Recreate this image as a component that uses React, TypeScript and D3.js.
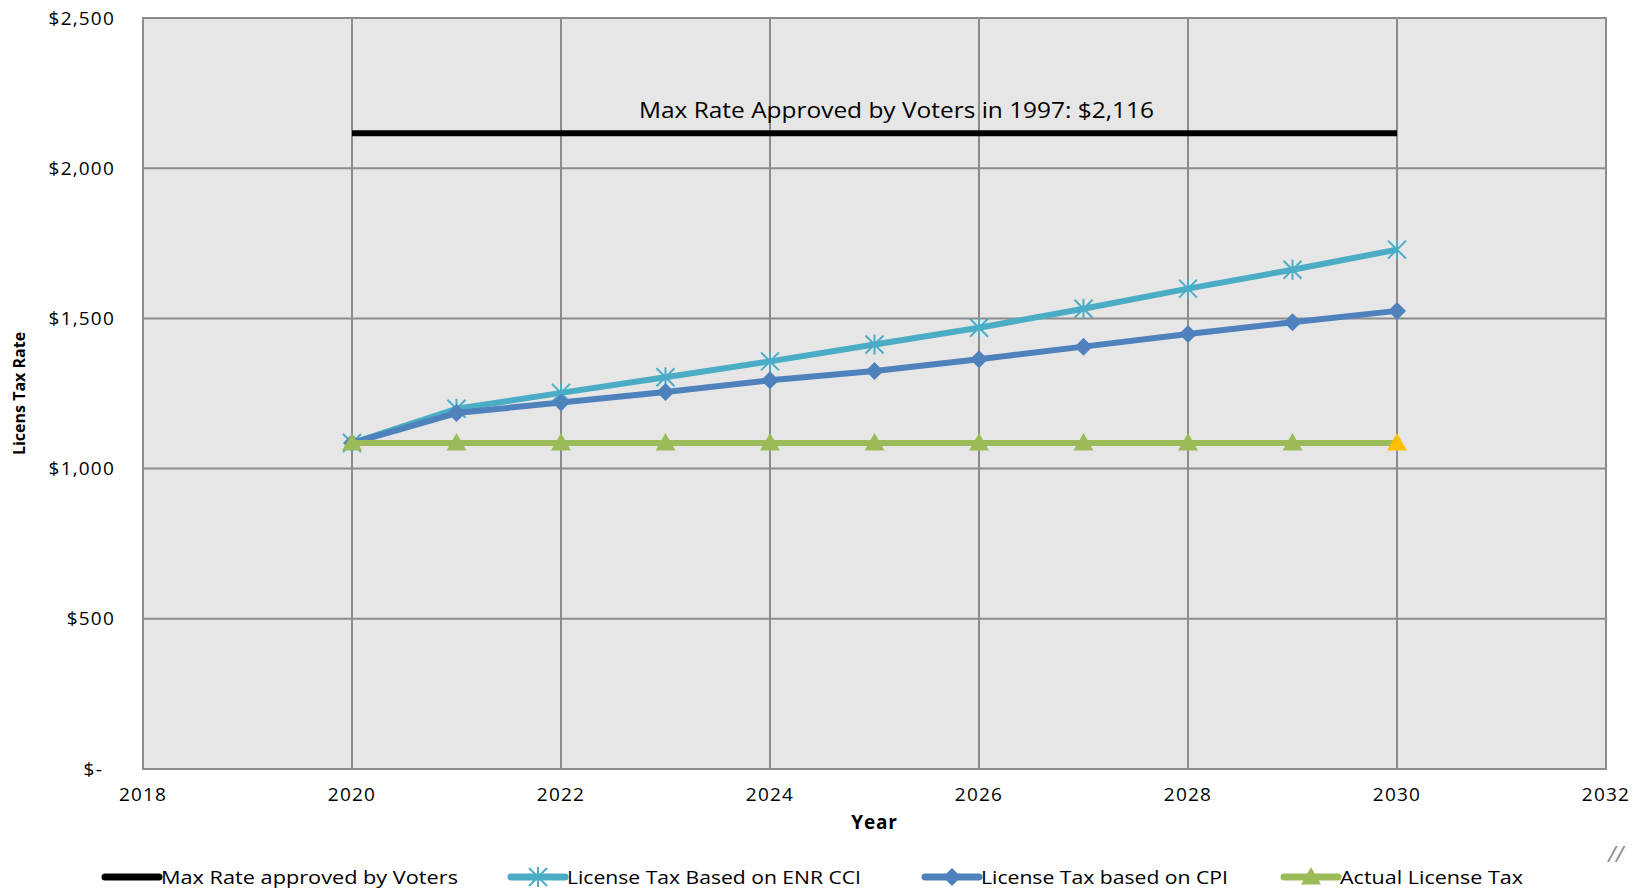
import React from 'react'
import * as d3 from 'd3'

const W = 1651
const H = 889
const MARGIN = { top: 18, right: 45, bottom: 120, left: 143 }

const years = [2020, 2021, 2022, 2023, 2024, 2025, 2026, 2027, 2028, 2029, 2030]
const maxRate = [2116, 2116, 2116, 2116, 2116, 2116, 2116, 2116, 2116, 2116, 2116]
const enrCci = [1085, 1199, 1252, 1304, 1357, 1413, 1469, 1532, 1599, 1662, 1729]
const cpi = [1085, 1185, 1220, 1255, 1294, 1325, 1364, 1406, 1448, 1487, 1525]
const actual = [1085, 1085, 1085, 1085, 1085, 1085, 1085, 1085, 1085, 1085, 1085]

const xTicks = [2018, 2020, 2022, 2024, 2026, 2028, 2030, 2032]
const yTicks = [0, 500, 1000, 1500, 2000, 2500]

const legendItems = [
  { label: 'Max Rate approved by Voters', color: '#000000', marker: 'none', x: 105, len: 297 },
  { label: 'License Tax Based on ENR CCI', color: '#4BACC6', marker: 'star', x: 511, len: 294 },
  { label: 'License Tax based on CPI', color: '#4F81BD', marker: 'diamond', x: 925, len: 247 },
  { label: 'Actual License Tax', color: '#9BBB59', marker: 'triangle', x: 1284, len: 183 },
]

const FONT = '"Open Sans", "Noto Sans", sans-serif'

function Marker({ kind, x, y, color }: { kind: string; x: number; y: number; color: string }) {
  if (kind === 'star') {
    const r = 9
    return (
      <g stroke={color} strokeWidth={2}>
        <line x1={x - r} y1={y - r} x2={x + r} y2={y + r} />
        <line x1={x - r} y1={y + r} x2={x + r} y2={y - r} />
        <line x1={x} y1={y - r - 1} x2={x} y2={y + r + 1} />
      </g>
    )
  }
  if (kind === 'diamond') {
    const r = 9
    return <path d={`M${x},${y - r}L${x + r},${y}L${x},${y + r}L${x - r},${y}Z`} fill={color} />
  }
  if (kind === 'triangle') {
    const r = 10
    return <path d={`M${x},${y - r}L${x + r},${y + r * 0.75}L${x - r},${y + r * 0.75}Z`} fill={color} />
  }
  return null
}

export default function App() {
  const bw = W - MARGIN.left - MARGIN.right
  const bh = H - MARGIN.top - MARGIN.bottom

  const x = d3.scaleLinear().domain([2018, 2032]).range([0, bw])
  const y = d3.scaleLinear().domain([0, 2500]).range([bh, 0])

  const line = d3
    .line<number>()
    .x((_, i) => x(years[i]))
    .y((d) => y(d))

  const series = [
    { values: enrCci, color: '#4BACC6', marker: 'star' },
    { values: cpi, color: '#4F81BD', marker: 'diamond' },
    { values: actual, color: '#9BBB59', marker: 'triangle' },
  ]

  return (
    <div>
      <style>{`body{margin:0}`}</style>
      <svg width={W} height={H} style={{ display: 'block', background: '#fff' }} fontFamily={FONT}>
        <g transform={`translate(${MARGIN.left},${MARGIN.top})`}>
          <rect x={0} y={0} width={bw} height={bh} fill="#E6E6E6" />
          {/* grid */}
          {xTicks.map((t) => (
            <line key={'gx' + t} x1={x(t)} x2={x(t)} y1={0} y2={bh} stroke="#8C8C8C" strokeWidth={2} />
          ))}
          {yTicks.map((t) => (
            <line key={'gy' + t} x1={0} x2={bw} y1={y(t)} y2={y(t)} stroke="#8C8C8C" strokeWidth={2} />
          ))}
          <rect x={0} y={0} width={bw} height={bh} fill="none" stroke="#8C8C8C" strokeWidth={2} />

          {/* tick labels */}
          {yTicks.map((t) => (
            <text
              key={'ty' + t}
              x={t === 0 ? -40 : -28}
              y={y(t)}
              dy="0.35em"
              textAnchor="end"
              fontSize={19}
              letterSpacing={1.2}
              fill="#000"
            >
              {t === 0 ? '$-' : d3.format('$,')(t)}
            </text>
          ))}
          {xTicks.map((t) => (
            <text
              key={'tx' + t}
              x={x(t)}
              y={bh + 32}
              textAnchor="middle"
              fontSize={19}
              letterSpacing={1.2}
              fill="#000"
            >
              {t}
            </text>
          ))}

          {/* max rate line */}
          <path d={line(maxRate) || ''} fill="none" stroke="#000" strokeWidth={6} />
          <text
            x={x(2025) + 22}
            y={y(2116) - 15}
            textAnchor="middle"
            fontSize={21}
            textLength={515}
            lengthAdjust="spacingAndGlyphs"
            fill="#000"
          >
            Max Rate Approved by Voters in 1997:  $2,116
          </text>

          {series.map((s, si) => (
            <g key={'s' + si}>
              <path d={line(s.values) || ''} fill="none" stroke={s.color} strokeWidth={6} strokeLinejoin="round" />
              {s.values.map((v, i) => (
                <Marker
                  key={i}
                  kind={s.marker}
                  x={x(years[i])}
                  y={y(v)}
                  color={s.marker === 'triangle' && i === years.length - 1 ? '#FFC000' : s.color}
                />
              ))}
            </g>
          ))}

          {/* axis titles */}
          <text
            x={x(2025)}
            y={bh + 60}
            textAnchor="middle"
            fontSize={19}
            letterSpacing={0.8}
            fontWeight="bold"
            fill="#000"
          >
            Year
          </text>
          <text
            transform={`translate(${-MARGIN.left + 25},${y(1250)}) rotate(-90)`}
            textAnchor="middle"
            fontSize={16}
            fontWeight="bold"
            fill="#000"
          >
            Licens Tax Rate
          </text>
        </g>

        {/* legend */}
        {legendItems.map((it) => (
          <g key={it.label}>
            <line x1={it.x} x2={it.x + 54} y1={877} y2={877} stroke={it.color} strokeWidth={7} strokeLinecap="round" />
            <Marker kind={it.marker} x={it.x + 27} y={877} color={it.color} />
            <text
              x={it.x + 56}
              y={877}
              dy="0.35em"
              fontSize={19}
              textLength={it.len}
              lengthAdjust="spacingAndGlyphs"
              fill="#000"
            >
              {it.label}
            </text>
          </g>
        ))}
        <text x={1608} y={862} fontSize={22} fill="#888" fontStyle="italic">
          //
        </text>
      </svg>
    </div>
  )
}
